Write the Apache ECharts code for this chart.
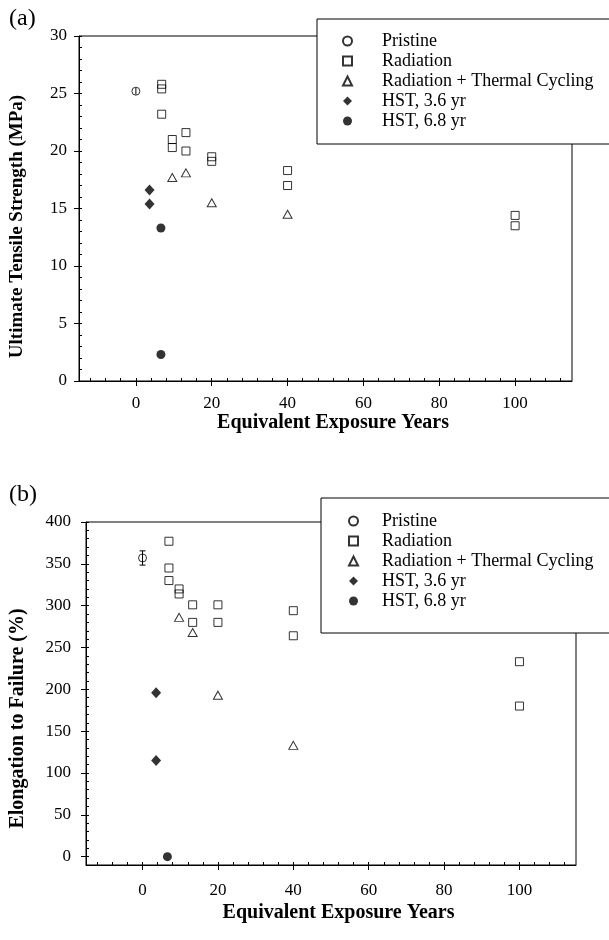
<!DOCTYPE html>
<html><head><meta charset="utf-8">
<script src="https://cdn.jsdelivr.net/npm/echarts@6/dist/echarts.min.js"></script>
<style>html,body{margin:0;padding:0;background:#fff}#c{width:609px;height:940px}</style>
</head><body><div id="c"></div>
<script>
// ---- data ----
const seriesNames = ['Pristine','Radiation','Radiation + Thermal Cycling','HST, 3.6 yr','HST, 6.8 yr'];
const xTicks = [0,20,40,60,80,100];
const xMinorTicks = [-12,-8,-4,0,4,8,12,16,20,24,28,32,36,40,44,48,52,56,60,64,68,72,76,80,84,88,92,96,100,104,108,112];
const yTicksA = [0,5,10,15,20,25,30];
const yTicksB = [0,50,100,150,200,250,300,350,400];

// (a) Ultimate Tensile Strength
const aPristineX = [0];           const aPristineY = [25.2];  const aPristineErr = [0.3];
const aRadX = [6.8,6.8,6.8,9.6,9.6,13.2,13.2,20,20,40,40,100,100];
const aRadY = [25.8,25.4,23.2,21.0,20.3,21.6,20.0,19.5,19.1,18.3,17.0,14.4,13.5];
const aRtcX = [9.6,13.2,20,40];   const aRtcY = [17.7,18.1,15.5,14.5];
const aHst36X = [3.6,3.6];        const aHst36Y = [16.6,15.4];
const aHst68X = [6.6,6.6];        const aHst68Y = [13.3,2.3];

// (b) Elongation to Failure
const bPristineX = [0];           const bPristineY = [357];   const bPristineErr = [8.5];
const bRadX = [7,7,7,9.7,9.7,13.3,13.3,20,20,40,40,100,100];
const bRadY = [377,345,330,320,314,301,280,301,280,294,264,233,180];
const bRtcX = [9.7,13.3,20,40];   const bRtcY = [286,268,193,133];
const bHst36X = [3.6,3.6];        const bHst36Y = [196,115];
const bHst68X = [6.6];            const bHst68Y = [0];

// ---- helpers ----
const FONT = '"Liberation Serif","DejaVu Serif",serif';
const zip = (xs, ys) => xs.map((x, i) => [x, ys[i]]);

function xAxes(gridIndex, labelMargin, nameGap) {
  return [
    { type:'value', gridIndex, min:-15, max:115, position:'bottom',
      name:'Equivalent Exposure Years', nameLocation:'middle', nameGap,
      nameTextStyle:{fontFamily:FONT, fontSize:20, fontWeight:'bold', color:'#000', padding:[0,0,0,15]},
      axisLine:{show:true, onZero:false, lineStyle:{color:'#000', width:1}},
      axisTick:{show:true, inside:false, length:5, customValues:xTicks, lineStyle:{color:'#000'}},
      axisLabel:{customValues:xTicks, margin:labelMargin, fontFamily:FONT, fontSize:17, color:'#000'},
      splitLine:{show:false} },
    { type:'value', gridIndex, min:-15, max:115, position:'bottom',
      axisLine:{show:false, onZero:false},
      axisTick:{show:true, inside:true, length:3, customValues:xMinorTicks, lineStyle:{color:'#000'}},
      axisLabel:{show:false}, splitLine:{show:false} }
  ];
}
function yAxes(gridIndex, min, max, ticks, minorInterval, name, labelMargin, nameGap, namePad, nameSize) {
  return [
    { type:'value', gridIndex, min, max, position:'left',
      name, nameLocation:'middle', nameGap,
      nameTextStyle:{fontFamily:FONT, fontSize:nameSize, fontWeight:'bold', color:'#000', padding:namePad},
      axisLine:{show:true, onZero:false, lineStyle:{color:'#000', width:1}},
      axisTick:{show:true, inside:false, length:5, customValues:ticks, lineStyle:{color:'#000'}},
      axisLabel:{customValues:ticks, margin:labelMargin, fontFamily:FONT, fontSize:17, color:'#000'},
      splitLine:{show:false} },
    { type:'value', gridIndex, min, max, interval:minorInterval, position:'left',
      axisLine:{show:false, onZero:false},
      axisTick:{show:true, inside:true, length:3, lineStyle:{color:'#000'}},
      axisLabel:{show:false}, splitLine:{show:false} }
  ];
}
const openStyle = {color:'rgba(0,0,0,0)', borderColor:'#000', borderWidth:1};
const fillStyle = {color:'#000', borderColor:'#000', borderWidth:0};

function errSeries(xi, yi, xs, ys, errs, capHalf) {
  return { type:'custom', xAxisIndex:xi, yAxisIndex:yi, silent:true, z:3,
    data: xs.map((x,i)=>[x, ys[i], errs[i]]),
    renderItem:(params, api)=>{
      const x = api.value(0), y = api.value(1), e = api.value(2);
      const p1 = api.coord([x, y+e]), p2 = api.coord([x, y-e]);
      const ls = {stroke:'#000', lineWidth:1};
      const ch = [{type:'line', shape:{x1:p1[0],y1:p1[1],x2:p2[0],y2:p2[1]}, style:ls}];
      if (capHalf>0) {
        ch.push({type:'line', shape:{x1:p1[0]-capHalf,y1:p1[1],x2:p1[0]+capHalf,y2:p1[1]}, style:ls});
        ch.push({type:'line', shape:{x1:p2[0]-capHalf,y1:p2[1],x2:p2[0]+capHalf,y2:p2[1]}, style:ls});
      }
      return {type:'group', children:ch};
    } };
}
function scatterSet(xi, yi, d) {
  return [
    {name:seriesNames[0], type:'scatter', xAxisIndex:xi, yAxisIndex:yi, symbol:'circle', symbolSize:8, itemStyle:openStyle, data:zip(d.px,d.py), z:4},
    {name:seriesNames[1], type:'scatter', xAxisIndex:xi, yAxisIndex:yi, symbol:'rect', symbolSize:8, itemStyle:openStyle, data:zip(d.rx,d.ry)},
    {name:seriesNames[2], type:'scatter', xAxisIndex:xi, yAxisIndex:yi, symbol:'triangle', symbolSize:[9,8], itemStyle:openStyle, data:zip(d.tx,d.ty)},
    {name:seriesNames[3], type:'scatter', xAxisIndex:xi, yAxisIndex:yi, symbol:'diamond', symbolSize:[10,11], itemStyle:fillStyle, data:zip(d.dx,d.dy)},
    {name:seriesNames[4], type:'scatter', xAxisIndex:xi, yAxisIndex:yi, symbol:'circle', symbolSize:9, itemStyle:fillStyle, data:zip(d.cx,d.cy)}
  ];
}
function legend(left, top, padding, textPadLeft) {
  return { left, top, orient:'vertical', data:seriesNames, padding,
    itemWidth:9, itemHeight:9, itemGap:2, selectedMode:false,
    borderColor:'#000', borderWidth:1, backgroundColor:'#fff', z:10,
    textStyle:{fontFamily:FONT, fontSize:18, lineHeight:16, color:'#000', padding:[0,0,0,textPadLeft]} };
}

const option = {
  backgroundColor:'#fff',
  animation:false,
  title:[
    {text:'(a)', left:4, top:2, textStyle:{fontFamily:FONT, fontSize:24, fontWeight:'normal', color:'#000'}},
    {text:'(b)', left:4, top:478, textStyle:{fontFamily:FONT, fontSize:24, fontWeight:'normal', color:'#000'}}
  ],
  grid:[
    {left:79, top:36, width:493, height:345, show:true, borderColor:'#000', borderWidth:1, backgroundColor:'transparent', outerBoundsMode:'none', containLabel:false},
    {left:86, top:522, width:490, height:343, show:true, borderColor:'#000', borderWidth:1, backgroundColor:'transparent', outerBoundsMode:'none', containLabel:false}
  ],
  legend:[ legend(317, 19, [13,30,14,25], 25), legend(321, 498, [14,30,23,27], 19) ],
  xAxis:[ ...xAxes(0, 14, 30), ...xAxes(1, 17, 38) ],
  yAxis:[ ...yAxes(0, 0, 30, yTicksA, 1, 'Ultimate Tensile Strength (MPa)', 12, 52, [0,36,0,0], 19),
          ...yAxes(1, -10, 400, yTicksB, 10, 'Elongation to Failure (%)', 15, 58, [0,50,0,0], 20) ],
  series:[
    ...scatterSet(0, 0, {px:aPristineX,py:aPristineY,rx:aRadX,ry:aRadY,tx:aRtcX,ty:aRtcY,dx:aHst36X,dy:aHst36Y,cx:aHst68X,cy:aHst68Y}),
    errSeries(0, 0, aPristineX, aPristineY, aPristineErr, 0),
    ...scatterSet(2, 2, {px:bPristineX,py:bPristineY,rx:bRadX,ry:bRadY,tx:bRtcX,ty:bRtcY,dx:bHst36X,dy:bHst36Y,cx:bHst68X,cy:bHst68Y}),
    errSeries(2, 2, bPristineX, bPristineY, bPristineErr, 3)
  ]
};
echarts.init(document.getElementById('c'), null, {renderer:'canvas'}).setOption(option);
</script></body></html>
